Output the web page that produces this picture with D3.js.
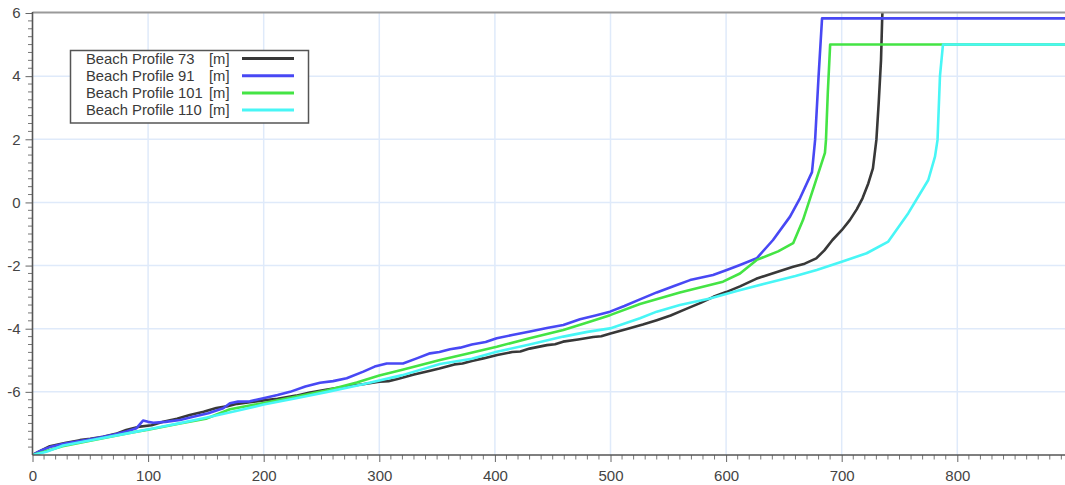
<!DOCTYPE html>
<html>
<head>
<meta charset="utf-8">
<script src="https://cdn.jsdelivr.net/npm/d3@7"></script>
<style>
  html, body { margin: 0; padding: 0; background: #fff; }
  svg { display: block; font-family: "Liberation Sans", Arial, sans-serif; }
</style>
</head>
<body>
<svg id="chart" width="1065" height="485"></svg>
<script>
// ---- data ----
const seriesNames = ["Beach Profile 73", "Beach Profile 91", "Beach Profile 101", "Beach Profile 110"];
const seriesUnit = "[m]";
const seriesColors = ["#383838", "#4848f4", "#44e444", "#48f6f6"];

const p73X = [0,5,15,28,41,50,61,72,81,93,103,113,125,136,148,159,168,177,188,200,212,228,240,255,270,286,300,308,315,330,344,352,365,372,380,390,402,415,422,430,445,452,459,472,485,492,500,515,528,540,552,565,578,589,600,612,626,640,658,668,678,685,692,700,707,713,718,723,727,730,732,734,735,736];
const p73Y = [-8,-7.9,-7.72,-7.62,-7.53,-7.49,-7.42,-7.33,-7.21,-7.1,-7.06,-6.95,-6.85,-6.73,-6.63,-6.51,-6.46,-6.38,-6.33,-6.27,-6.22,-6.12,-6.02,-5.93,-5.84,-5.76,-5.68,-5.66,-5.6,-5.45,-5.33,-5.26,-5.13,-5.1,-5.02,-4.94,-4.83,-4.74,-4.72,-4.63,-4.52,-4.49,-4.41,-4.34,-4.26,-4.24,-4.15,-4.0,-3.87,-3.73,-3.58,-3.38,-3.18,-2.99,-2.84,-2.66,-2.42,-2.25,-2.04,-1.94,-1.77,-1.52,-1.19,-0.88,-0.56,-0.22,0.13,0.6,1.08,1.98,3.15,4.5,5.8,6.8];

const p91X = [0,8,15,28,41,55,70,82,90,95.6,100,104.5,115,127.6,140,152,165,170.8,177.8,188,199.7,212,222.8,236,248.7,260,271.8,286.2,296,306.4,320.5,332.4,343.9,352,361.2,370,380,392,401.6,415,430.4,445,459.2,473.6,487,499.6,512,525.5,540,555,568.8,588.7,600,612,626.5,640.6,655.3,664,674.3,677,680,683,900];
const p91Y = [-8,-7.85,-7.75,-7.64,-7.56,-7.47,-7.36,-7.25,-7.15,-6.91,-6.95,-6.98,-6.95,-6.89,-6.78,-6.68,-6.52,-6.36,-6.31,-6.3,-6.2,-6.1,-6.0,-5.83,-5.71,-5.66,-5.57,-5.36,-5.2,-5.1,-5.1,-4.94,-4.78,-4.74,-4.65,-4.6,-4.5,-4.42,-4.3,-4.2,-4.09,-3.98,-3.88,-3.7,-3.58,-3.46,-3.28,-3.07,-2.85,-2.65,-2.46,-2.3,-2.15,-1.98,-1.77,-1.19,-0.45,0.14,0.96,1.98,4.0,5.83,5.83];

const p101X = [0,10,26,50,84,100,127.6,150,170.8,200,228.5,255,280.5,300,320,352.5,375,401.6,430,459.2,480,499.6,525.5,560,597.3,612,626.5,645,658,666.5,676,685.5,686.4,688,690,900];
const p101Y = [-8,-7.9,-7.72,-7.55,-7.3,-7.2,-7.0,-6.85,-6.55,-6.35,-6.15,-5.95,-5.7,-5.48,-5.3,-4.99,-4.8,-4.57,-4.3,-4.04,-3.8,-3.57,-3.22,-2.85,-2.51,-2.25,-1.82,-1.55,-1.29,-0.56,0.5,1.57,1.98,3.5,5.0,5.0];

const p110X = [0,12,26.4,55,84.3,105,127.6,150,177,200,228,255,286,320,352.5,380,401.6,430,459.2,480,499.6,525.5,540,560,586,610,635,660,678.4,700,721.6,740.3,757.6,774.9,780.7,782.9,785,787.6,900];
const p110Y = [-8,-7.9,-7.7,-7.5,-7.3,-7.15,-6.99,-6.82,-6.6,-6.4,-6.2,-6.0,-5.76,-5.47,-5.12,-4.95,-4.73,-4.5,-4.25,-4.1,-3.99,-3.67,-3.46,-3.25,-3.04,-2.8,-2.56,-2.33,-2.14,-1.88,-1.61,-1.24,-0.34,0.71,1.45,1.98,4.0,5.0,5.0];

const xTicks = [0,100,200,300,400,500,600,700,800];
const yTicks = [-6,-4,-2,0,2,4,6];

// ---- layout ----
const svg = d3.select("#chart");
const W = 1065, H = 485;
const mLeft = 32.5, mTop = 13, mBottom = 455;
const x = d3.scaleLinear().domain([0, 900]).range([mLeft, mLeft + 1.156 * 900]);
const y = d3.scaleLinear().domain([-8, 6]).range([mBottom, mTop]);

svg.append("defs").append("clipPath").attr("id", "plotclip")
  .append("rect").attr("x", mLeft).attr("y", mTop).attr("width", W - mLeft).attr("height", mBottom - mTop);

// grid
const grid = svg.append("g");
grid.selectAll("line.gx").data(xTicks.filter(d => d > 0)).join("line")
  .attr("x1", d => x(d)).attr("x2", d => x(d)).attr("y1", mTop).attr("y2", mBottom)
  .attr("stroke", "#dfeafa").attr("stroke-width", 1.5);
grid.selectAll("line.gy").data(yTicks.filter(d => d < 6)).join("line")
  .attr("x1", mLeft).attr("x2", W).attr("y1", d => y(d)).attr("y2", d => y(d))
  .attr("stroke", "#dfeafa").attr("stroke-width", 1.5);

// lines
const allX = [p73X, p91X, p101X, p110X];
const allY = [p73Y, p91Y, p101Y, p110Y];
const line = d3.line().x(d => x(d[0])).y(d => y(d[1]));
const lines = svg.append("g").attr("clip-path", "url(#plotclip)");
allX.forEach((xs, i) => {
  const pts = xs.map((v, j) => [v, allY[i][j]]);
  lines.append("path").datum(pts)
    .attr("d", line).attr("fill", "none")
    .attr("stroke", seriesColors[i]).attr("stroke-width", 2.6)
    .attr("stroke-linejoin", "round");
});

// top frame
svg.append("line").attr("x1", mLeft).attr("x2", W).attr("y1", mTop - 0.5).attr("y2", mTop - 0.5)
  .attr("stroke", "#9a9a9a").attr("stroke-width", 2);

// x axis
const xAxis = d3.axisBottom(x).tickValues(xTicks).tickSize(7).tickPadding(8);
const gx = svg.append("g").attr("transform", `translate(0,${mBottom})`).call(xAxis);
gx.select(".domain").remove();
gx.selectAll("line").attr("stroke", "#666").attr("stroke-width", 1);
gx.selectAll("text").attr("font-size", 15).attr("fill", "#444").attr("font-family", "Liberation Sans, Arial, sans-serif");
const xMinor = d3.range(0, 900, 10).filter(d => d % 100 !== 0);
svg.append("g").selectAll("line").data(xMinor).join("line")
  .attr("x1", d => x(d)).attr("x2", d => x(d)).attr("y1", mBottom).attr("y2", mBottom + 4.5)
  .attr("stroke", "#777").attr("stroke-width", 1);
svg.append("line").attr("x1", mLeft).attr("x2", W).attr("y1", mBottom).attr("y2", mBottom)
  .attr("stroke", "#555").attr("stroke-width", 1.6);

// y axis
const yAxis = d3.axisLeft(y).tickValues(yTicks).tickSize(7).tickPadding(5);
const gy = svg.append("g").attr("transform", `translate(${mLeft},0)`).call(yAxis);
gy.select(".domain").remove();
gy.selectAll("line").attr("stroke", "#666").attr("stroke-width", 1);
gy.selectAll("text").attr("font-size", 15).attr("fill", "#444").attr("font-family", "Liberation Sans, Arial, sans-serif")
  .text(d => String(d));
const yMinor = d3.range(-8, 6.01, 0.25).filter(d => Math.abs(d % 2) > 1e-6);
svg.append("g").selectAll("line").data(yMinor).join("line")
  .attr("x1", mLeft - 4.5).attr("x2", mLeft).attr("y1", d => y(d)).attr("y2", d => y(d))
  .attr("stroke", "#777").attr("stroke-width", 1);
svg.append("line").attr("x1", mLeft).attr("x2", mLeft).attr("y1", mTop - 1).attr("y2", mBottom)
  .attr("stroke", "#555").attr("stroke-width", 1.6);

// legend
const lg = svg.append("g");
lg.append("rect").attr("x", 70.5).attr("y", 50.5).attr("width", 238).attr("height", 72.5)
  .attr("fill", "#fff").attr("stroke", "#555").attr("stroke-width", 1.5);
seriesNames.forEach((name, i) => {
  const cy = 58.5 + i * 17.2;
  lg.append("text").attr("x", 86).attr("y", cy + 5).attr("font-size", 14.8).attr("fill", "#3a3a3a").text(name);
  lg.append("text").attr("x", 209).attr("y", cy + 5).attr("font-size", 14.8).attr("fill", "#3a3a3a").text(seriesUnit);
  lg.append("line").attr("x1", 242).attr("x2", 294).attr("y1", cy).attr("y2", cy)
    .attr("stroke", seriesColors[i]).attr("stroke-width", 3);
});
</script>
</body>
</html>
